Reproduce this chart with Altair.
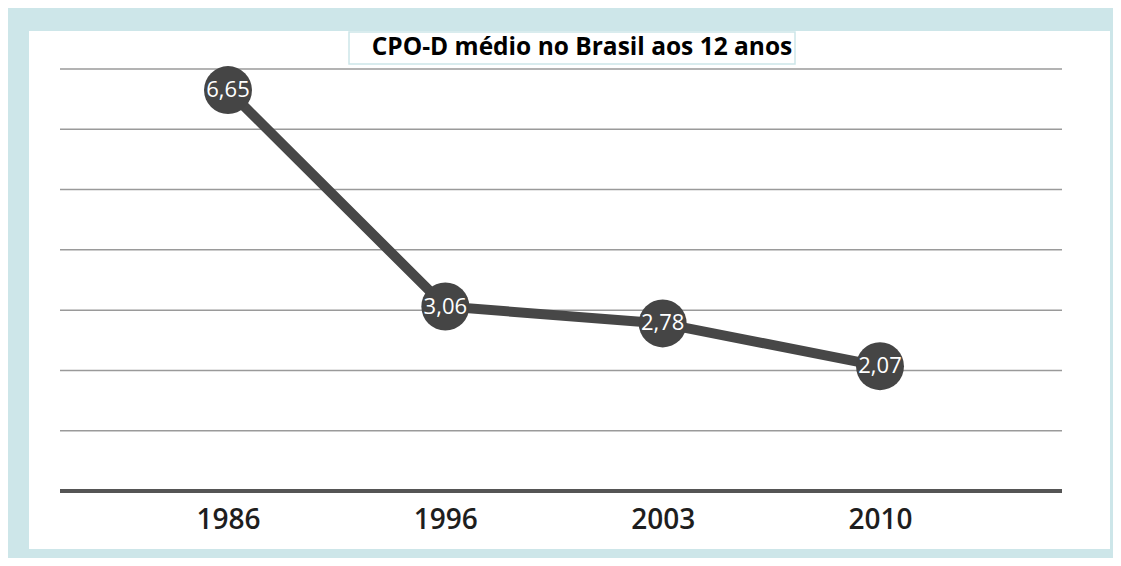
import altair as alt
import pandas as pd

years = ["1986", "1996", "2003", "2010"]
values = [6.65, 3.06, 2.78, 2.07]
labels = ["6,65", "3,06", "2,78", "2,07"]
grid_values = [1, 2, 3, 4, 5, 6, 7]
title_text = "CPO-D médio no Brasil aos 12 anos"

df = pd.DataFrame({"ano": years, "cpod": values, "rotulo": labels})
grid_df = pd.DataFrame({"g": grid_values})
base_df = pd.DataFrame({"g": [0]})
one = pd.DataFrame({"k": [0]})

W, H = 1002, 422
xscale = alt.Scale(type="point", domain=years, range=[168, 820], padding=0)
yscale = alt.Scale(domain=[0, 7], nice=False, zero=True)

panel = alt.Chart(one).mark_rect(color="#ffffff").encode(
    x=alt.value(-31), x2=alt.value(1050), y=alt.value(-38), y2=alt.value(480)
)

title_box = alt.Chart(one).mark_rect(fill="#ffffff", stroke="#cde6e9", strokeWidth=1.5).encode(
    x=alt.value(289), x2=alt.value(735), y=alt.value(-37), y2=alt.value(-5)
)

title = alt.Chart(one).mark_text(
    text=title_text, font="Open Sans", fontWeight="bold", fontSize=24.5,
    color="#000000", align="center", baseline="middle"
).encode(x=alt.value(522), y=alt.value(-21))

grid = alt.Chart(grid_df).mark_rule(color="#9a9a9a", strokeWidth=1.5).encode(
    y=alt.Y("g:Q", scale=yscale, axis=None)
)

baseline = alt.Chart(base_df).mark_rule(color="#555555", strokeWidth=4).encode(
    y=alt.Y("g:Q", scale=yscale, axis=None)
)

xaxis = alt.Axis(
    title=None, domain=False, ticks=False, labelAngle=0, labelFont="Open Sans",
    labelFontSize=28, labelFontWeight=600, labelColor="#1e1e1e", labelPadding=15,
    grid=False, zindex=1
)

line = alt.Chart(df).mark_line(color="#474747", strokeWidth=10).encode(
    x=alt.X("ano:N", scale=xscale, axis=xaxis, sort=years),
    y=alt.Y("cpod:Q", scale=yscale, axis=None),
)

points = alt.Chart(df).mark_point(
    shape="circle", filled=True, size=2300, color="#454545", opacity=1
).encode(
    x=alt.X("ano:N", scale=xscale, sort=years),
    y=alt.Y("cpod:Q", scale=yscale),
)

texts = alt.Chart(df).mark_text(
    font="Open Sans", fontSize=22, color="#ffffff", align="center", baseline="middle"
).encode(
    x=alt.X("ano:N", scale=xscale, sort=years),
    y=alt.Y("cpod:Q", scale=yscale),
    text="rotulo:N",
)

chart = alt.layer(panel, title_box, title, grid, baseline, line, points, texts).properties(
    width=W, height=H,
    background="#cde6e9",
    padding={"left": 52, "top": 61, "right": 51, "bottom": 67},
    autosize=alt.AutoSizeParams(type="none"),
).configure_view(stroke=None)

chart.save("out.html", embed_options={"renderer": "svg", "actions": False})
